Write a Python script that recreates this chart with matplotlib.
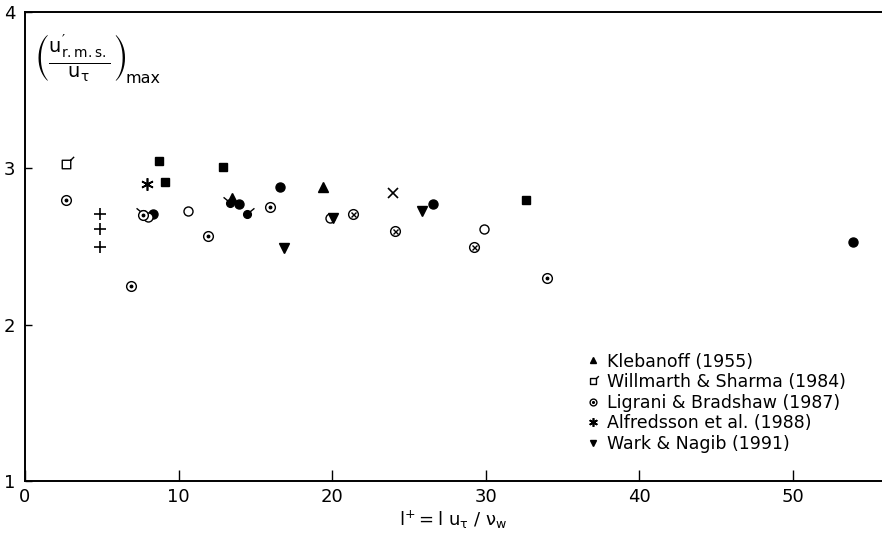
import matplotlib
matplotlib.use('Agg')
import matplotlib.pyplot as plt
from matplotlib.path import Path
from matplotlib.legend_handler import HandlerTuple

# Legend series
kleb_x = [13.5, 19.4]
kleb_y = [2.81, 2.88]
willm_x = [2.67]
willm_y = [3.03]
ligr_x = [2.67, 6.9, 7.68, 11.9, 15.95, 33.98]
ligr_y = [2.80, 2.25, 2.70, 2.57, 2.75, 2.30]
alfr_x = [7.94]
alfr_y = [2.90]
wark_x = [16.86, 20.05, 25.85]
wark_y = [2.49, 2.68, 2.73]

# Other (unlabelled) data sets
plus_x = [4.88, 4.88, 4.88]
plus_y = [2.71, 2.61, 2.50]
fsq_x = [8.72, 9.11, 12.89, 32.62]
fsq_y = [3.05, 2.91, 3.01, 2.80]
fcirc_x = [16.6, 26.56, 53.9, 8.33, 13.93]
fcirc_y = [2.88, 2.77, 2.53, 2.71, 2.77]
tickl_x = [7.68, 13.35]
tickl_y = [2.71, 2.78]
tickr_x = [14.45]
tickr_y = [2.71]
ocirc_x = [10.61, 8.01, 19.86, 29.88]
ocirc_y = [2.73, 2.69, 2.68, 2.61]
otimes_x = [21.35, 24.09, 29.23]
otimes_y = [2.71, 2.60, 2.50]
cross_x = [23.96]
cross_y = [2.84]

plt.rcParams['mathtext.fontset'] = 'dejavusans'
plt.rcParams['mathtext.default'] = 'regular'
plt.rcParams['font.family'] = 'DejaVu Sans'

# custom markers
M, L, C = Path.MOVETO, Path.LINETO, Path.CLOSEPOLY
sq_tick = Path([(-1, -1), (1, -1), (1, 1), (-1, 1), (-1, -1), (1, 1), (1.8, 1.8)],
               [M, L, L, L, C, M, L])
circ = Path.unit_circle()
tick_left = Path.make_compound_path(circ, Path([(-0.7, 0.7), (-1.8, 1.6)], [M, L]))
tick_right = Path.make_compound_path(circ, Path([(0.7, 0.7), (1.8, 1.6)], [M, L]))

fig = plt.figure(figsize=(8.82, 5.39), dpi=100)
ax = fig.add_axes([0.0283, 0.1076, 0.9717, 0.8701])

kw = dict(linestyle='none', color='black')
ax.plot(plus_x, plus_y, marker='+', markersize=9, markeredgewidth=1.2, **kw)
ax.plot(fsq_x, fsq_y, marker='s', markersize=6, **kw)
ax.plot(fcirc_x, fcirc_y, marker='o', markersize=6.5, **kw)
ax.plot(tickl_x, tickl_y, marker=tick_left, markersize=10, markeredgewidth=1, **kw)
ax.plot(tickr_x, tickr_y, marker=tick_right, markersize=10, markeredgewidth=1, **kw)
ax.plot(ocirc_x, ocirc_y, marker='o', markersize=6.5, markerfacecolor='white',
        markeredgewidth=1, **kw)
ax.plot(otimes_x, otimes_y, marker='o', markersize=7, markerfacecolor='white',
        markeredgewidth=1, **kw)
ax.plot(otimes_x, otimes_y, marker='x', markersize=3.6, markeredgewidth=1, **kw)
ax.plot(cross_x, cross_y, marker='x', markersize=6.5, markeredgewidth=1.2, **kw)

h_kleb, = ax.plot(kleb_x, kleb_y, marker='^', markersize=7, **kw)
h_willm, = ax.plot(willm_x, willm_y, marker=sq_tick, markersize=11, markerfacecolor='none',
                   markeredgewidth=1, **kw)
h_lig1, = ax.plot(ligr_x, ligr_y, marker='o', markersize=7, markerfacecolor='white',
                  markeredgewidth=1, **kw)
h_lig2, = ax.plot(ligr_x, ligr_y, marker='o', markersize=1.8, **kw)
h_alfr, = ax.plot(alfr_x, alfr_y, marker=(6, 2, 0), markersize=9, markeredgewidth=1.2, **kw)
h_wark, = ax.plot(wark_x, wark_y, marker='v', markersize=7, **kw)

ax.set_xlim(0, 55.8)
ax.set_ylim(1, 4)
ax.set_xticks([0, 10, 20, 30, 40, 50])
ax.set_yticks([1, 2, 3, 4])
ax.tick_params(axis='x', direction='in', length=8, width=1, labelsize=13, pad=5)
ax.tick_params(axis='y', direction='in', length=5, width=1, labelsize=13, pad=7)
ax.spines['right'].set_visible(False)
for s in ['left', 'bottom', 'top']:
    ax.spines[s].set_linewidth(1.4)

ax.set_xlabel(r'$l^{+} = l\ u_{\tau}\ /\ \nu_{w}$', fontsize=13, labelpad=2)
# y quantity written inside the axes, top left
ax.text(0.011, 0.90, r'$\left(\frac{u^{\prime}_{r.m.s.}}{u_{\tau}}\right)$',
        transform=ax.transAxes, fontsize=20, va='center', ha='left')
ax.text(0.117, 0.858, 'max', transform=ax.transAxes, fontsize=11.5,
        va='center', ha='left')

leg = ax.legend([h_kleb, h_willm, (h_lig1, h_lig2), h_alfr, h_wark],
                ['Klebanoff (1955)', 'Willmarth & Sharma (1984)',
                 'Ligrani & Bradshaw (1987)', 'Alfredsson et al. (1988)',
                 'Wark & Nagib (1991)'],
                handler_map={tuple: HandlerTuple(ndivide=1)},
                loc='upper left', bbox_to_anchor=(0.655, 0.362),
                bbox_transform=fig.transFigure, frameon=False, fontsize=12.5,
                handlelength=0.8, handletextpad=0.4, labelspacing=0.15,
                borderpad=0, markerscale=0.7)

fig.savefig('out.png', dpi=100)
